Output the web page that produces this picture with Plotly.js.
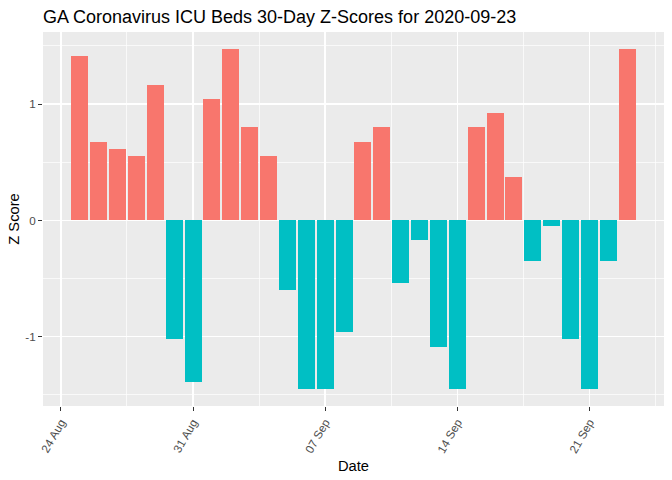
<!DOCTYPE html>
<html>
<head>
<meta charset="utf-8">
<script src="https://cdn.plot.ly/plotly-3.0.1.min.js"></script>
<style>html,body{margin:0;padding:0;background:#fff;}#chart{width:672px;height:480px;}</style>
</head>
<body>
<div id="chart"></div>
<script>
const dates = [
  "2020-08-25","2020-08-26","2020-08-27","2020-08-28","2020-08-29","2020-08-30","2020-08-31",
  "2020-09-01","2020-09-02","2020-09-03","2020-09-04","2020-09-05","2020-09-06","2020-09-07",
  "2020-09-08","2020-09-09","2020-09-10","2020-09-11","2020-09-12","2020-09-13","2020-09-14",
  "2020-09-15","2020-09-16","2020-09-17","2020-09-18","2020-09-19","2020-09-20","2020-09-21",
  "2020-09-22","2020-09-23"
];
const zScores = [
  1.414, 0.677, 0.617, 0.557, 1.166, -1.020, -1.386,
  1.046, 1.474, 0.806, 0.557, -0.600, -1.449, -1.449,
  -0.957, 0.677, 0.806, -0.540, -0.171, -1.089, -1.449,
  0.806, 0.926, 0.377, -0.351, -0.051, -1.020, -1.449,
  -0.351, 1.474
];
const tickDates = ["2020-08-24","2020-08-31","2020-09-07","2020-09-14","2020-09-21"];
const tickLabels = ["24 Aug","31 Aug","07 Sep","14 Sep","21 Sep"];
const yTicks = [-1, 0, 1];

const DAY = 86400000;
const t = s => Date.parse(s + "T00:00:00Z");
const iso = ms => new Date(ms).toISOString().replace("T"," ").replace("Z","");

// ggplot-like expanded ranges
const xmin = Math.min(...dates.map(t)) - 0.45*DAY;
const xmax = Math.max(...dates.map(t)) + 0.45*DAY;
const xs = xmax - xmin;
const xRange = [iso(xmin - 0.05*xs), iso(xmax + 0.05*xs)];
const ymin = Math.min(...zScores), ymax = Math.max(...zScores);
const ys = ymax - ymin;
const yRange = [ymin - 0.05*ys, ymax + 0.05*ys];

// minor gridlines midway between major ticks
const tickMs = tickDates.map(t);
const minorX = [];
for (let i = -1; i < tickMs.length; i++) {
  minorX.push(iso(tickMs[0] + (i + 0.5) * 7 * DAY));
}
const minorY = [-1.5, -0.5, 0.5, 1.5];

const colors = zScores.map(v => v >= 0 ? "#F8766D" : "#00BFC4");

const trace = {
  type: "bar",
  x: dates,
  y: zScores,
  width: dates.map(() => 0.9*DAY),
  marker: {color: colors, line: {width: 0}},
  hoverinfo: "x+y",
  showlegend: false
};

const layout = {
  width: 672, height: 480,
  paper_bgcolor: "#FFFFFF",
  plot_bgcolor: "#EBEBEB",
  margin: {l: 43, r: 8, t: 32, b: 74, pad: 0},
  font: {family: "Liberation Sans, Arial, sans-serif", color: "#000000"},
  title: {
    text: "GA Coronavirus ICU Beds 30-Day Z-Scores for 2020-09-23",
    font: {size: 18, color: "#000000"},
    x: 43/672, xref: "container", xanchor: "left",
    y: 1 - 17/480, yref: "container", yanchor: "middle"
  },
  xaxis: {
    type: "date",
    range: xRange,
    tickmode: "array",
    tickvals: tickDates,
    ticktext: tickLabels,
    tickangle: -60,
    tickfont: {size: 11.7, color: "#4D4D4D"},
    ticks: "outside", ticklen: 4, tickwidth: 1, tickcolor: "#333333",
    showgrid: true, gridcolor: "#FFFFFF", gridwidth: 1.4,
    minor: {tickmode: "array", tickvals: minorX, showgrid: true, gridcolor: "#FFFFFF", gridwidth: 0.7, ticks: ""},
    zeroline: false, showline: false,
    automargin: false,
    title: {text: "Date", font: {size: 14.7, color: "#000000"}, standoff: 6}
  },
  yaxis: {
    range: yRange,
    tickmode: "array",
    tickvals: yTicks,
    ticktext: yTicks.map(String),
    tickfont: {size: 11.7, color: "#4D4D4D"},
    ticks: "outside", ticklen: 4, tickwidth: 1, tickcolor: "#333333",
    showgrid: true, gridcolor: "#FFFFFF", gridwidth: 1.4,
    minor: {tickmode: "array", tickvals: minorY, showgrid: true, gridcolor: "#FFFFFF", gridwidth: 0.7, ticks: ""},
    zeroline: false, showline: false,
    automargin: false,
    title: {text: "Z Score", font: {size: 14.7, color: "#000000"}, standoff: 2}
  },
  bargap: 0
};

Plotly.newPlot("chart", [trace], layout, {displayModeBar: false, staticPlot: true});
</script>
</body>
</html>
